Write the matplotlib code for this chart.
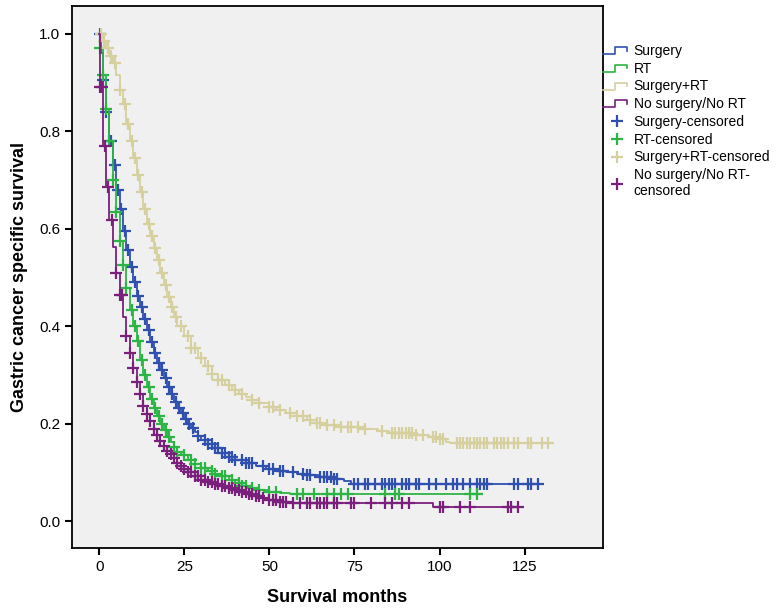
import numpy as np
import matplotlib
matplotlib.use("Agg")
from matplotlib import pyplot as plt
from matplotlib.lines import Line2D
from matplotlib.legend_handler import HandlerBase

plt.rcParams['font.family'] = ['Liberation Sans', 'DejaVu Sans']

# step curves (months, survival)
surg_t = [0, 0.5, 1, 2, 3, 4, 5, 6, 7, 8, 9, 10, 11, 12, 13, 14, 15, 16, 17, 18, 19, 20,
          21, 22, 23, 24, 25, 26, 27, 28, 29, 30, 32, 34, 36, 38, 40, 43, 46, 49, 52, 55,
          58, 61, 65, 69, 72, 74, 129]
surg_s = [1.0, 0.96, 0.905, 0.84, 0.78, 0.73, 0.68, 0.64, 0.595, 0.556, 0.522, 0.49, 0.463,
          0.44, 0.415, 0.392, 0.368, 0.345, 0.325, 0.31, 0.293, 0.275, 0.26, 0.245, 0.233,
          0.222, 0.21, 0.2, 0.192, 0.183, 0.175, 0.167, 0.158, 0.15, 0.14, 0.132, 0.126,
          0.119, 0.113, 0.108, 0.104, 0.1, 0.097, 0.094, 0.09, 0.086, 0.082, 0.077, 0.077]

rt_t = [0, 0.3, 1, 2, 3, 4, 5, 6, 7, 8, 9, 10, 11, 12, 13, 14, 15, 16, 17, 18, 19, 20, 21,
        22, 23, 24, 26, 28, 30, 32, 34, 36, 38, 40, 42, 44, 47, 50, 53, 56, 112]
rt_s = [1.0, 0.97, 0.915, 0.845, 0.78, 0.70, 0.635, 0.574, 0.526, 0.478, 0.433, 0.40, 0.37,
        0.33, 0.30, 0.276, 0.25, 0.232, 0.215, 0.2, 0.187, 0.173, 0.162, 0.152, 0.143,
        0.135, 0.126, 0.118, 0.11, 0.104, 0.097, 0.092, 0.085, 0.079, 0.073, 0.069, 0.064,
        0.06, 0.057, 0.055, 0.055]

srt_t = [0, 1, 2, 3, 4, 5, 6, 7, 8, 9, 10, 11, 12, 13, 14, 15, 16, 17, 18, 19, 20, 21, 22,
         23, 25, 27, 29, 31, 33, 35, 37, 39, 41, 43, 45, 47, 50, 52, 55, 58, 61, 64, 67,
         71, 77, 82, 85, 93, 97, 100, 102, 103, 132]
srt_s = [1.0, 0.985, 0.97, 0.955, 0.94, 0.915, 0.885, 0.855, 0.815, 0.78, 0.745, 0.71,
         0.675, 0.64, 0.61, 0.585, 0.56, 0.535, 0.51, 0.485, 0.46, 0.44, 0.42, 0.40, 0.38,
         0.355, 0.335, 0.318, 0.303, 0.29, 0.28, 0.27, 0.262, 0.255, 0.248, 0.242, 0.235,
         0.228, 0.222, 0.215, 0.208, 0.202, 0.197, 0.193, 0.19, 0.186, 0.18, 0.176, 0.172,
         0.168, 0.163, 0.16, 0.16]

none_t = [0, 0.2, 1, 2, 3, 4, 5, 6, 7, 8, 9, 10, 11, 12, 13, 14, 15, 16, 17, 18, 19, 20,
          21, 22, 23, 24, 25, 26, 28, 30, 32, 34, 36, 38, 40, 42, 44, 46, 48, 50, 53, 56,
          98, 124]
none_s = [1.0, 0.89, 0.77, 0.686, 0.618, 0.563, 0.509, 0.464, 0.42, 0.38, 0.345, 0.315,
          0.286, 0.26, 0.237, 0.22, 0.205, 0.19, 0.176, 0.165, 0.155, 0.145, 0.137, 0.129,
          0.12, 0.113, 0.107, 0.1, 0.092, 0.085, 0.08, 0.076, 0.072, 0.068, 0.064, 0.06,
          0.056, 0.052, 0.047, 0.043, 0.04, 0.037, 0.03, 0.03]

# censoring times
surg_c = [0.3, 1, 2, 3.5, 4.5, 5.5, 6.5, 7.5, 8.5, 9.5, 10.5, 11.5, 12.5, 13.5, 14.5, 15.5,
          16.5, 17.5, 18.5, 19.5, 20.5, 21.5, 22.5, 23.5, 24.5, 25.5, 26.5, 27.5, 29, 31,
          32, 33, 34, 35, 36, 37, 38, 39, 40, 42, 43, 44, 45, 48, 50, 51, 53, 54, 57, 60,
          61, 62, 65, 66, 67, 68, 69, 70, 75, 76, 78, 79, 81, 83, 84, 85, 86, 87, 89, 90,
          91, 93, 94, 97, 99, 102, 104, 105, 107, 109, 111, 112, 113, 114, 122, 123, 126,
          127, 129]
rt_c = [0.3, 1, 2, 3, 4, 5, 6, 7, 8, 9.5, 10.5, 11.5, 12.5, 13.5, 14.5, 15.5, 16.5, 17.5,
        18.5, 19.5, 20.5, 22, 23, 25, 27, 28, 30, 31, 33, 34, 36, 37, 39, 41, 42, 43, 45,
        47, 50, 52, 58, 60, 63, 67, 69, 71, 73, 84, 87, 88, 109, 111]
srt_c = [0.5, 1.5, 2.5, 3.5, 4.5, 6, 7.5, 8.5, 9.5, 10.5, 11.5, 12.5, 13.5, 14.5, 15.5,
         16.5, 17.5, 18.5, 19.5, 20.5, 21.5, 22.5, 24, 26, 27, 28, 30, 32, 33, 35, 36, 38,
         40, 42, 45, 47, 50, 51, 53, 56, 58, 60, 62, 64, 65, 67, 69, 71, 73, 74, 76, 78,
         83, 86, 87, 88, 89, 90, 91, 92, 93, 95, 98, 99, 100, 101, 105, 106, 107, 108, 109,
         110, 111, 112, 113, 114, 116, 117, 118, 119, 120, 122, 123, 126, 127, 130, 132]
none_c = [0.2, 0.8, 1.8, 2.7, 3.7, 5, 6, 6.6, 8, 9, 10, 11, 12, 13, 14, 15, 16, 17, 18, 19,
          20, 21, 22, 23, 24, 25, 26, 27, 28, 29, 30, 31, 32, 33, 34, 35, 36, 37, 38, 39,
          40, 41, 42, 43, 44, 45, 46, 47, 48, 50, 51, 52, 53, 54, 55, 57, 59, 61, 62, 64,
          65, 66, 67, 69, 70, 74, 75, 80, 84, 86, 89, 91, 100, 101, 106, 109, 120, 121, 123]

groups = ["Surgery", "RT", "Surgery+RT", "No surgery/No RT"]
colors = ["#3050b0", "#2cb544", "#d6d09e", "#7a1f7c"]
curves = [(surg_t, surg_s, surg_c), (rt_t, rt_s, rt_c),
          (srt_t, srt_s, srt_c), (none_t, none_s, none_c)]


class StepHandler(HandlerBase):
    def create_artists(self, legend, orig_handle, xdescent, ydescent,
                       width, height, fontsize, trans):
        xs = np.array([0, 0.45, 0.45, 0.85, 0.85]) * width - xdescent
        ys = np.array([0.1, 0.1, 0.8, 0.8, 0.45]) * height - ydescent
        ln = Line2D(xs, ys, color=orig_handle.get_color(), lw=1.2)
        ln.set_transform(trans)
        return [ln]


fig = plt.figure(figsize=(7.78, 6.10), dpi=100)
ax = fig.add_axes([0.0925, 0.1016, 0.6825, 0.8885])
ax.set_facecolor("#f0f0f0")

step_handles = []
cens_handles = []
for (t, s, c), col, name in zip(curves, colors, groups):
    t = np.array(t)
    s = np.array(s)
    c = np.array(c)
    h, = ax.step(t, s, where="post", color=col, lw=1.3)
    idx = np.searchsorted(t, c, side="right") - 1
    m, = ax.plot(c, s[idx], ls="none", marker="+", ms=8, mew=1.6, color=col)
    step_handles.append(h)
    cens_handles.append(m)

ax.set_xlim(-8, 148)
ax.set_ylim(-0.055, 1.057)
ax.set_xticks([0, 25, 50, 75, 100, 125])
ax.set_yticks([0.0, 0.2, 0.4, 0.6, 0.8, 1.0])
ax.set_yticklabels(["0.0", "0.2", "0.4", "0.6", "0.8", "1.0"])
ax.tick_params(direction="out", length=5, width=1.5, labelsize=11, colors="black")
for sp in ax.spines.values():
    sp.set_linewidth(1.3)

ax.set_xlabel("Survival months", fontsize=13, fontweight="bold", labelpad=11)
ax.set_ylabel("Gastric cancer specific survival", fontsize=13, fontweight="bold", labelpad=8)

labels = groups + [g + "-censored" for g in groups]
labels[-1] = "No surgery/No RT-\ncensored"
hmap = {h: StepHandler() for h in step_handles}
leg = ax.legend(step_handles + cens_handles, labels, loc="upper left",
                bbox_to_anchor=(1.0, 0.93), frameon=False, fontsize=10,
                handlelength=2.0, handletextpad=0.2, labelspacing=0.27,
                borderaxespad=0, borderpad=0, handler_map=hmap)

fig.savefig("out.png", dpi=100)
